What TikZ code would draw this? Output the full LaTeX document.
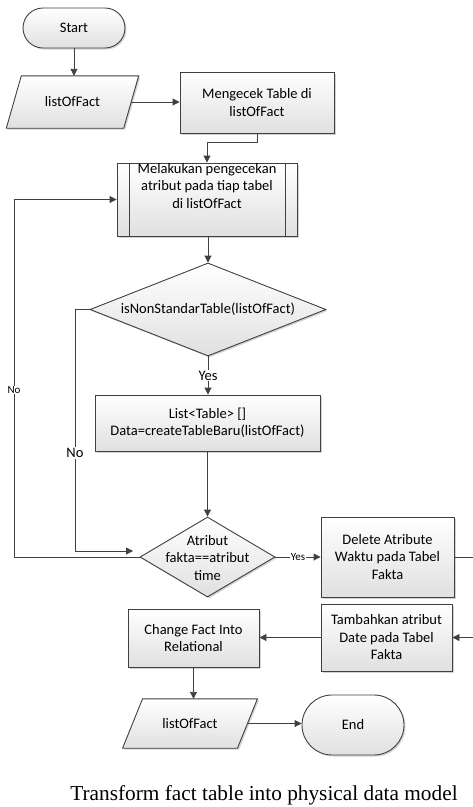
\documentclass[tikz,border=0pt]{standalone}
\usepackage{fontspec}
\setmainfont{Carlito}
\newfontfamily\capfont{Liberation Serif}
\usetikzlibrary{shapes.geometric,shapes.misc,arrows.meta,shadows,backgrounds}
\definecolor{ln}{HTML}{404040}
\definecolor{fillbot}{HTML}{E0E0E0}
\begin{document}
\begin{tikzpicture}[x=1pt,y=-1pt,
  font=\fontsize{14.5}{17.5}\selectfont,
  look/.style={draw=ln, line width=0.9pt, top color=white, bottom color=fillbot,
    drop shadow={shadow xshift=1.5pt, shadow yshift=-1.5pt, opacity=0.35, fill=gray}},
  base/.style={look, align=center, inner sep=2pt},
  boxst/.style={base, rectangle},
  termst/.style={base, rounded rectangle},
  paratext/.style={rectangle, align=center, inner sep=2pt},
  decst/.style={base, diamond, inner sep=0pt},
  conn/.style={draw=ln, line width=0.9pt, -{Triangle[length=7pt,width=7pt]}},
  plain/.style={draw=ln, line width=0.9pt},
  lab/.style={fill=white, inner sep=1pt},
  smalllab/.style={fill=white, inner sep=0.5pt, font=\fontsize{11}{13}\selectfont}
]
\useasboundingbox (0,0) rectangle (473,807);

% nodes
\node[termst, minimum width=106pt, minimum height=40pt] (start) at (74,28) {Start};
\node[paratext, minimum width=117pt, minimum height=52pt] (in1) at (72.5,102) {listOfFact};
\node[boxst, minimum width=154pt, minimum height=61pt] (chk) at (257,102.5) {Mengecek Table di\\listOfFact};
\node[boxst, minimum width=180pt, minimum height=73pt] (proc) at (207,199.5) {};
\draw[plain] ([xshift=13pt]proc.north west) -- ([xshift=13pt]proc.south west);
\draw[plain] ([xshift=-12pt]proc.north east) -- ([xshift=-12pt]proc.south east);
\node[align=center, inner sep=0pt] (proct) at (207,186) {Melakukan pengecekan\\atribut pada tiap tabel\\di listOfFact};
\node[decst, minimum width=236pt, minimum height=93pt] (d1) at (208,309.5) {};
\node[inner sep=0pt] (d1t) at (d1.center) {isNonStandarTable(listOfFact)};
\node[boxst, minimum width=225pt, minimum height=56pt] (box2) at (207.5,423) {List<Table> []\\Data=createTableBaru(listOfFact)};
\node[decst, minimum width=135pt, minimum height=80pt] (d2) at (207.5,557) {};
\node[align=center, inner sep=0pt] (d2t) at (207.5,558) {Atribut\\fakta==atribut\\time};
\node[boxst, minimum width=133pt, minimum height=80pt] (del) at (387.5,557) {Delete Atribute\\Waktu pada Tabel\\Fakta};
\node[boxst, minimum width=131pt, minimum height=67pt] (tam) at (386.5,637.5) {Tambahkan atribut\\Date pada Tabel\\Fakta};
\node[boxst, minimum width=131pt, minimum height=58pt] (chg) at (193.5,638) {Change Fact Into\\Relational};
\node[paratext, minimum width=114.5pt, minimum height=49pt] (out) at (190,723.5) {listOfFact};
\node[termst, minimum width=106pt, minimum height=60pt] (end) at (353,725) {End};

% parallelogram outlines, behind their texts
\begin{scope}[on background layer]
\path[look] ([xshift=7.5pt]in1.north west) -- ([xshift=7.5pt]in1.north east)
  -- ([xshift=-7.5pt]in1.south east) -- ([xshift=-7.5pt]in1.south west) -- cycle;
\path[look] ([xshift=10pt]out.north west) -- ([xshift=10pt]out.north east)
  -- ([xshift=-10pt]out.south east) -- ([xshift=-10pt]out.south west) -- cycle;
\end{scope}

\node[font=\capfont\fontsize{21.3}{25}\selectfont] (cap) at (264,795) {Transform fact table into physical data model};

% coordinates
\coordinate (n1a) at (75,551);
\coordinate (n2end) at (133,551);
\coordinate (lp1) at (14,557);
\coordinate (rt) at (476,557);

% connectors
\draw[conn] (start.south) -- (start.south |- in1.north);
\draw[conn] (in1.east) -- (in1.east -| chk.west);
\draw[conn] (chk.south) -- ++(0,9) -| (proc.north);
\draw[conn] (proc.south) -- (proc.south -| d1.north) -- (d1.north);
\draw[conn] (d1.south) -- node[lab] (yes1) {Yes} (d1.south |- box2.north);
\draw[conn] (d1.west) -| (n1a) -- (n2end);
\node[lab] (no1) at (75,453) {No};
\draw[conn] (box2.south) -- (box2.south |- d2.north);
\draw[conn] (d2.west) -- (lp1) |- (proc.west);
\node[smalllab] (no2) at (14,390) {No};
\draw[conn] (d2.east) -- node[smalllab] (yes2) {Yes} (d2.east -| del.west);
\draw[conn] (del.east) -- (rt) |- (tam.east);
\draw[conn] (tam.west) -- (tam.west -| chg.east);
\draw[conn] (chg.south) -- (chg.south |- out.north);
\draw[conn] (out.east) -- (out.east -| end.west);
\end{tikzpicture}
\end{document}
